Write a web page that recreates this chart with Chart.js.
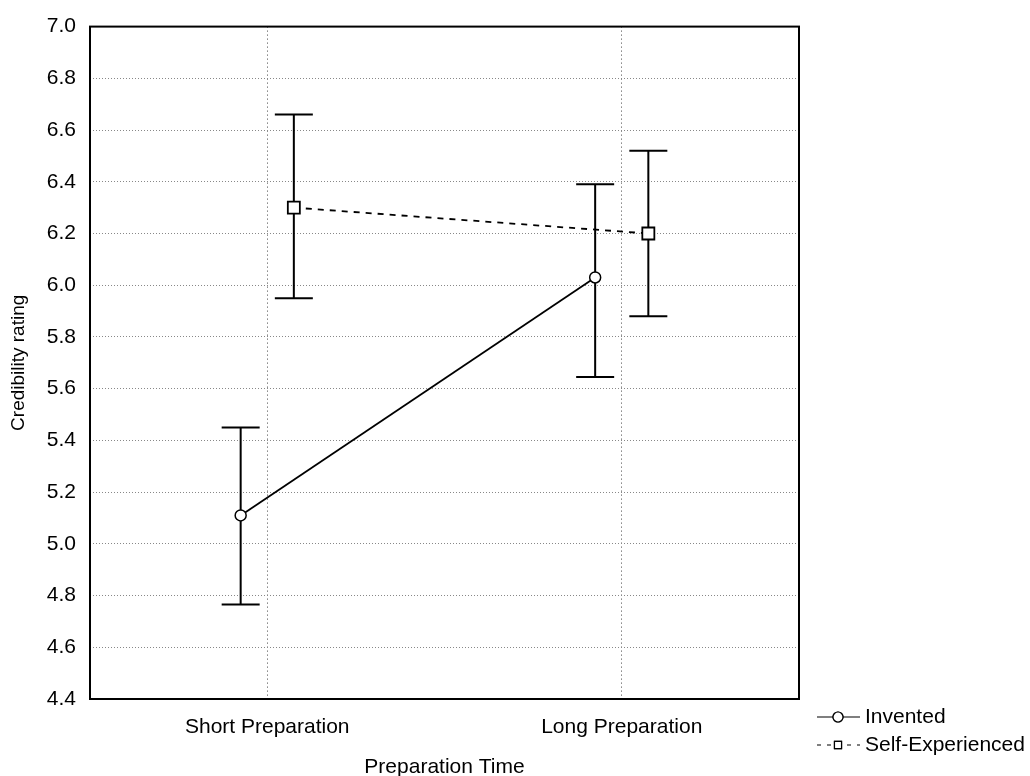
<!DOCTYPE html>
<html>
<head>
<meta charset="utf-8">
<script src="https://cdn.jsdelivr.net/npm/chart.js@4"></script>
<style>
  body { margin: 0; background: #fff; }
</style>
</head>
<body>
<canvas id="chart" width="1030" height="776"></canvas>
<script>
var categories = ['Short Preparation', 'Long Preparation'];
var inventedMean = [5.11, 6.03];
var inventedUpper = [5.45, 6.39];
var inventedLower = [4.765, 5.645];
var selfMean = [6.30, 6.20];
var selfUpper = [6.66, 6.52];
var selfLower = [5.95, 5.88];
var yTicks = [4.4, 4.6, 4.8, 5.0, 5.2, 5.4, 5.6, 5.8, 6.0, 6.2, 6.4, 6.6, 6.8, 7.0];

var offset = 0.075;
var FONT = 'Liberation Sans, Arial, sans-serif';

function points(means, shift) {
    return means.map(function (m, i) { return { x: i + shift, y: m }; });
}

// error bars drawn under the markers
var errorBars = {
    id: 'errorBars',
    beforeDatasetsDraw: function (chart) {
        var ctx = chart.ctx;
        var xs = chart.scales.x, ys = chart.scales.y;
        var sets = [
            { lo: inventedLower, hi: inventedUpper, shift: -offset },
            { lo: selfLower, hi: selfUpper, shift: offset }
        ];
        ctx.save();
        ctx.strokeStyle = '#000';
        ctx.lineWidth = 2;
        sets.forEach(function (s) {
            s.lo.forEach(function (lo, i) {
                var px = xs.getPixelForValue(i + s.shift);
                var y1 = ys.getPixelForValue(lo);
                var y2 = ys.getPixelForValue(s.hi[i]);
                ctx.beginPath();
                ctx.moveTo(px, y1); ctx.lineTo(px, y2);
                ctx.moveTo(px - 19, y1); ctx.lineTo(px + 19, y1);
                ctx.moveTo(px - 19, y2); ctx.lineTo(px + 19, y2);
                ctx.stroke();
            });
        });
        ctx.restore();
    }
};

// frame round the plot + legend at lower right
var frameAndLegend = {
    id: 'frameAndLegend',
    afterDraw: function (chart) {
        var ctx = chart.ctx, a = chart.chartArea;
        ctx.save();
        ctx.strokeStyle = '#000';
        ctx.lineWidth = 2;
        ctx.strokeRect(a.left, a.top, a.right - a.left, a.bottom - a.top);

        var rows = [717, 745];
        chart.data.datasets.forEach(function (ds, i) {
            var y = rows[i];
            ctx.lineWidth = 1.2;
            ctx.setLineDash(ds.borderDash && ds.borderDash.length ? [4, 6] : []);
            ctx.beginPath();
            ctx.moveTo(817, y); ctx.lineTo(860, y);
            ctx.stroke();
            ctx.setLineDash([]);
            ctx.fillStyle = '#fff';
            ctx.lineWidth = 1.2;
            Chart.helpers.drawPoint(ctx, { pointStyle: ds.pointStyle, radius: 5, borderWidth: 1.2 }, 838, y);
            ctx.fill();
            ctx.stroke();
            ctx.fillStyle = '#000';
            ctx.font = '21px ' + FONT;
            ctx.textBaseline = 'middle';
            ctx.fillText(ds.label, 865, y);
        });
        ctx.restore();
    }
};

new Chart(document.getElementById('chart'), {
    type: 'line',
    data: {
        datasets: [{
            label: 'Invented',
            data: points(inventedMean, -offset),
            borderColor: '#000',
            borderWidth: 1.8,
            pointStyle: 'circle',
            pointRadius: 5.5,
            pointBorderWidth: 1.5,
            pointBackgroundColor: '#fff',
            pointBorderColor: '#000'
        }, {
            label: 'Self-Experienced',
            data: points(selfMean, offset),
            borderColor: '#000',
            borderWidth: 1.8,
            borderDash: [6, 6],
            pointStyle: 'rect',
            pointRadius: 8.5,
            pointBorderWidth: 1.8,
            pointBackgroundColor: '#fff',
            pointBorderColor: '#000'
        }]
    },
    options: {
        responsive: false,
        animation: false,
        layout: { padding: { top: 26, right: 231, left: 0, bottom: 0 } },
        plugins: {
            legend: { display: false },
            tooltip: { enabled: false }
        },
        scales: {
            x: {
                type: 'linear',
                min: -0.5,
                max: 1.5,
                afterBuildTicks: function (scale) {
                    scale.ticks = categories.map(function (c, i) { return { value: i }; });
                },
                afterFit: function (scale) { scale.height = 77; },
                ticks: {
                    callback: function (v) { return categories[v]; },
                    color: '#000',
                    font: { family: FONT, size: 21 },
                    padding: 16,
                    maxRotation: 0
                },
                grid: {
                    color: '#444',
                    lineWidth: 1,
                    drawTicks: false
                },
                border: { display: false, dash: [1, 3] },
                title: {
                    display: true,
                    text: 'Preparation Time',
                    color: '#000',
                    font: { family: FONT, size: 21, lineHeight: 0.8 },
                    padding: { top: 0, bottom: 0 }
                }
            },
            y: {
                min: 4.4,
                max: 7.0,
                afterBuildTicks: function (scale) {
                    scale.ticks = yTicks.map(function (v) { return { value: v }; });
                },
                afterFit: function (scale) { scale.width = 90; },
                ticks: {
                    callback: function (v) { return v.toFixed(1); },
                    color: '#000',
                    font: { family: FONT, size: 21 },
                    padding: 14
                },
                grid: {
                    color: '#888',
                    lineWidth: 1,
                    drawTicks: false
                },
                border: { display: false, dash: [1, 2] },
                title: {
                    display: true,
                    text: 'Credibility rating',
                    color: '#000',
                    font: { family: FONT, size: 19, lineHeight: 1 },
                    padding: { top: 9, bottom: 0 }
                }
            }
        }
    },
    plugins: [errorBars, frameAndLegend]
});
</script>
</body>
</html>
